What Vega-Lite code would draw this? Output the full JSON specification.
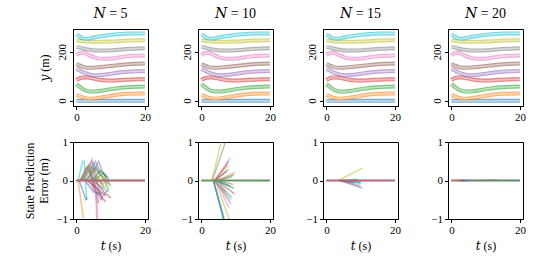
{
  "$schema": "https://vega.github.io/schema/vega-lite/v6.json",
  "autosize": "none",
  "padding": {"left": 73, "top": 29, "right": 467, "bottom": 237},
  "background": "white",
  "config": {
    "font": "Liberation Serif",
    "view": {"stroke": "black", "strokeWidth": 1},
    "axis": {"domainColor": "black", "tickColor": "black", "labelColor": "black", "titleColor": "black", "labelFont": "Liberation Serif, DejaVu Serif", "titleFont": "Liberation Serif, DejaVu Serif", "labelFontSize": 11, "titleFontSize": 12, "titleFontWeight": "normal", "tickSize": 3.5, "grid": false, "labelPadding": 2, "labelOverlap": false},
    "axisX": {"titlePadding": 5},
    "title": {"font": "Liberation Serif, DejaVu Serif", "fontSize": 14, "fontWeight": "normal", "offset": 4, "color": "black"}
  },
  "datasets": {
    "traj": [
      {"lane":0,"t":0,"y":-1},{"lane":0,"t":5,"y":-1},{"lane":0,"t":10,"y":-1},{"lane":0,"t":15,"y":-1},{"lane":0,"t":20,"y":-1},
      {"lane":1,"t":0,"y":24},{"lane":1,"t":1,"y":18},{"lane":1,"t":2,"y":12},{"lane":1,"t":3,"y":9},{"lane":1,"t":4,"y":8},{"lane":1,"t":5,"y":9},{"lane":1,"t":6,"y":11},{"lane":1,"t":8,"y":15},{"lane":1,"t":10,"y":20},{"lane":1,"t":12,"y":24},{"lane":1,"t":14,"y":27},{"lane":1,"t":16,"y":28},{"lane":1,"t":18,"y":29},{"lane":1,"t":20,"y":29},
      {"lane":2,"t":0,"y":68},{"lane":2,"t":1,"y":56},{"lane":2,"t":2,"y":46},{"lane":2,"t":3,"y":40},{"lane":2,"t":4,"y":37},{"lane":2,"t":5,"y":37},{"lane":2,"t":6,"y":38},{"lane":2,"t":8,"y":42},{"lane":2,"t":10,"y":47},{"lane":2,"t":12,"y":51},{"lane":2,"t":14,"y":54},{"lane":2,"t":16,"y":56},{"lane":2,"t":18,"y":57},{"lane":2,"t":20,"y":58},
      {"lane":3,"t":0,"y":84},{"lane":3,"t":1,"y":92},{"lane":3,"t":2,"y":95},{"lane":3,"t":3,"y":95},{"lane":3,"t":4,"y":93},{"lane":3,"t":5,"y":90},{"lane":3,"t":6,"y":87},{"lane":3,"t":8,"y":83},{"lane":3,"t":10,"y":82},{"lane":3,"t":12,"y":83},{"lane":3,"t":14,"y":85},{"lane":3,"t":16,"y":86},{"lane":3,"t":18,"y":87},{"lane":3,"t":20,"y":87},
      {"lane":4,"t":0,"y":130},{"lane":4,"t":1,"y":123},{"lane":4,"t":2,"y":116},{"lane":4,"t":3,"y":110},{"lane":4,"t":4,"y":106},{"lane":4,"t":5,"y":104},{"lane":4,"t":6,"y":104},{"lane":4,"t":8,"y":106},{"lane":4,"t":10,"y":110},{"lane":4,"t":12,"y":114},{"lane":4,"t":14,"y":117},{"lane":4,"t":16,"y":119},{"lane":4,"t":18,"y":120},{"lane":4,"t":20,"y":121},
      {"lane":5,"t":0,"y":150},{"lane":5,"t":1,"y":143},{"lane":5,"t":2,"y":138},{"lane":5,"t":3,"y":135},{"lane":5,"t":4,"y":134},{"lane":5,"t":5,"y":135},{"lane":5,"t":6,"y":136},{"lane":5,"t":8,"y":139},{"lane":5,"t":10,"y":142},{"lane":5,"t":12,"y":145},{"lane":5,"t":14,"y":148},{"lane":5,"t":16,"y":150},{"lane":5,"t":18,"y":151},{"lane":5,"t":20,"y":152},
      {"lane":6,"t":0,"y":186},{"lane":6,"t":1,"y":195},{"lane":6,"t":2,"y":196},{"lane":6,"t":3,"y":191},{"lane":6,"t":4,"y":184},{"lane":6,"t":5,"y":178},{"lane":6,"t":6,"y":174},{"lane":6,"t":8,"y":171},{"lane":6,"t":10,"y":172},{"lane":6,"t":12,"y":176},{"lane":6,"t":14,"y":180},{"lane":6,"t":16,"y":183},{"lane":6,"t":18,"y":184},{"lane":6,"t":20,"y":185},
      {"lane":7,"t":0,"y":220},{"lane":7,"t":1,"y":217},{"lane":7,"t":2,"y":213},{"lane":7,"t":3,"y":210},{"lane":7,"t":4,"y":208},{"lane":7,"t":5,"y":206},{"lane":7,"t":6,"y":205},{"lane":7,"t":8,"y":205},{"lane":7,"t":10,"y":206},{"lane":7,"t":12,"y":208},{"lane":7,"t":14,"y":210},{"lane":7,"t":16,"y":212},{"lane":7,"t":18,"y":213},{"lane":7,"t":20,"y":214},
      {"lane":8,"t":0,"y":248},{"lane":8,"t":1,"y":245},{"lane":8,"t":2,"y":243},{"lane":8,"t":3,"y":242},{"lane":8,"t":4,"y":241},{"lane":8,"t":5,"y":241},{"lane":8,"t":6,"y":241},{"lane":8,"t":8,"y":241},{"lane":8,"t":10,"y":242},{"lane":8,"t":12,"y":243},{"lane":8,"t":14,"y":245},{"lane":8,"t":16,"y":246},{"lane":8,"t":18,"y":247},{"lane":8,"t":20,"y":247},
      {"lane":9,"t":0,"y":271},{"lane":9,"t":1,"y":262},{"lane":9,"t":2,"y":254},{"lane":9,"t":3,"y":253},{"lane":9,"t":4,"y":255},{"lane":9,"t":5,"y":258},{"lane":9,"t":6,"y":261},{"lane":9,"t":8,"y":265},{"lane":9,"t":10,"y":269},{"lane":9,"t":12,"y":272},{"lane":9,"t":14,"y":274},{"lane":9,"t":16,"y":275},{"lane":9,"t":18,"y":275},{"lane":9,"t":20,"y":275}
    ],
    "err": [
      {"p":5,"id":1,"c":9,"t":0.5,"e":0},{"p":5,"id":1,"c":9,"t":1.8,"e":0.5},{"p":5,"id":1,"c":9,"t":2.3,"e":0.5},{"p":5,"id":1,"c":9,"t":3,"e":-0.5},
      {"p":5,"id":2,"c":1,"t":0.5,"e":0},{"p":5,"id":2,"c":1,"t":2.2,"e":-1.1},
      {"p":5,"id":3,"c":0,"t":0.8,"e":0},{"p":5,"id":3,"c":0,"t":2.8,"e":-0.5},{"p":5,"id":3,"c":0,"t":3.2,"e":-0.45},
      {"p":5,"id":4,"c":2,"t":1,"e":0},{"p":5,"id":4,"c":2,"t":3,"e":0.35},{"p":5,"id":4,"c":2,"t":4.5,"e":0.1},{"p":5,"id":4,"c":2,"t":8,"e":-0.1},
      {"p":5,"id":5,"c":3,"t":1.2,"e":0},{"p":5,"id":5,"c":3,"t":3.5,"e":0.4},{"p":5,"id":5,"c":3,"t":5,"e":-0.2},{"p":5,"id":5,"c":3,"t":6.5,"e":-0.4},
      {"p":5,"id":6,"c":4,"t":1.5,"e":0},{"p":5,"id":6,"c":4,"t":4,"e":0.4},{"p":5,"id":6,"c":4,"t":5.5,"e":0.1},{"p":5,"id":6,"c":4,"t":7.5,"e":-0.5},
      {"p":5,"id":7,"c":5,"t":1.5,"e":0},{"p":5,"id":7,"c":5,"t":4,"e":0.3},{"p":5,"id":7,"c":5,"t":6.5,"e":-0.6},
      {"p":5,"id":8,"c":6,"t":2,"e":0},{"p":5,"id":8,"c":6,"t":4.5,"e":0.55},{"p":5,"id":8,"c":6,"t":5.5,"e":0},{"p":5,"id":8,"c":6,"t":6,"e":-1.1},
      {"p":5,"id":9,"c":7,"t":2,"e":0},{"p":5,"id":9,"c":7,"t":4.5,"e":0.5},{"p":5,"id":9,"c":7,"t":6,"e":0.1},{"p":5,"id":9,"c":7,"t":8,"e":-0.2},
      {"p":5,"id":10,"c":8,"t":2.2,"e":0},{"p":5,"id":10,"c":8,"t":4,"e":0.4},{"p":5,"id":10,"c":8,"t":6,"e":0.2},{"p":5,"id":10,"c":8,"t":8.5,"e":0.05},
      {"p":5,"id":11,"c":9,"t":2.5,"e":0},{"p":5,"id":11,"c":9,"t":5,"e":0.45},{"p":5,"id":11,"c":9,"t":7,"e":0.2},
      {"p":5,"id":12,"c":0,"t":2.5,"e":0},{"p":5,"id":12,"c":0,"t":5,"e":-0.3},{"p":5,"id":12,"c":0,"t":7.5,"e":-0.35},
      {"p":5,"id":13,"c":1,"t":2.8,"e":0},{"p":5,"id":13,"c":1,"t":5.5,"e":0.3},{"p":5,"id":13,"c":1,"t":8,"e":0.05},{"p":5,"id":13,"c":1,"t":9,"e":-0.1},
      {"p":5,"id":14,"c":2,"t":3,"e":0},{"p":5,"id":14,"c":2,"t":5.5,"e":0.35},{"p":5,"id":14,"c":2,"t":7.5,"e":0.1},{"p":5,"id":14,"c":2,"t":9.5,"e":-0.25},
      {"p":5,"id":15,"c":3,"t":3,"e":0},{"p":5,"id":15,"c":3,"t":6,"e":-0.2},{"p":5,"id":15,"c":3,"t":7.5,"e":-0.45},{"p":5,"id":15,"c":3,"t":8.5,"e":-0.55},
      {"p":5,"id":16,"c":4,"t":3.3,"e":0},{"p":5,"id":16,"c":4,"t":5.5,"e":0.5},{"p":5,"id":16,"c":4,"t":7,"e":0.25},{"p":5,"id":16,"c":4,"t":9,"e":0.1},
      {"p":5,"id":17,"c":5,"t":3.5,"e":0},{"p":5,"id":17,"c":5,"t":6,"e":-0.2},{"p":5,"id":17,"c":5,"t":8.5,"e":-0.4},
      {"p":5,"id":18,"c":6,"t":3.5,"e":0},{"p":5,"id":18,"c":6,"t":5.5,"e":-0.3},{"p":5,"id":18,"c":6,"t":6,"e":-0.6},{"p":5,"id":18,"c":6,"t":6.2,"e":-1.1},
      {"p":5,"id":19,"c":7,"t":4,"e":0},{"p":5,"id":19,"c":7,"t":6.5,"e":0.5},{"p":5,"id":19,"c":7,"t":8,"e":0.15},{"p":5,"id":19,"c":7,"t":9.5,"e":-0.1},
      {"p":5,"id":20,"c":8,"t":4,"e":0},{"p":5,"id":20,"c":8,"t":6.5,"e":0.1},{"p":5,"id":20,"c":8,"t":8.5,"e":-0.2},
      {"p":5,"id":21,"c":9,"t":4.5,"e":0},{"p":5,"id":21,"c":9,"t":7,"e":-0.15},{"p":5,"id":21,"c":9,"t":9.5,"e":-0.3},
      {"p":5,"id":22,"c":0,"t":4.5,"e":0},{"p":5,"id":22,"c":0,"t":7,"e":0.25},{"p":5,"id":22,"c":0,"t":9.5,"e":0.05},
      {"p":5,"id":23,"c":2,"t":5,"e":0},{"p":5,"id":23,"c":2,"t":8,"e":0.2},{"p":5,"id":23,"c":2,"t":10,"e":-0.15},
      {"p":5,"id":24,"c":3,"t":5.5,"e":0},{"p":5,"id":24,"c":3,"t":8,"e":-0.3},{"p":5,"id":24,"c":3,"t":10,"e":-0.45},
      {"p":5,"id":25,"c":4,"t":5,"e":0},{"p":5,"id":25,"c":4,"t":7,"e":-0.5},{"p":5,"id":25,"c":4,"t":9,"e":-0.25},
      {"p":5,"id":91,"c":1,"t":0,"e":0},{"p":5,"id":91,"c":1,"t":20,"e":0},
      {"p":5,"id":92,"c":0,"t":0,"e":0},{"p":5,"id":92,"c":0,"t":20,"e":0},
      {"p":5,"id":93,"c":2,"t":0,"e":0},{"p":5,"id":93,"c":2,"t":20,"e":0},
      {"p":5,"id":94,"c":3,"t":0,"e":0},{"p":5,"id":94,"c":3,"t":20,"e":0},
      {"p":5,"id":95,"c":5,"t":0,"e":0},{"p":5,"id":95,"c":5,"t":20,"e":0},
      {"p":5,"id":96,"c":6,"t":0,"e":0},{"p":5,"id":96,"c":6,"t":20,"e":0},

      {"p":10,"id":1,"c":8,"t":3,"e":0},{"p":10,"id":1,"c":8,"t":6.2,"e":1.15},
      {"p":10,"id":2,"c":7,"t":3.2,"e":0},{"p":10,"id":2,"c":7,"t":7.4,"e":1.1},
      {"p":10,"id":3,"c":9,"t":3.5,"e":0},{"p":10,"id":3,"c":9,"t":6.7,"e":-1.1},
      {"p":10,"id":4,"c":7,"t":3.5,"e":0},{"p":10,"id":4,"c":7,"t":7,"e":-1.1},
      {"p":10,"id":5,"c":8,"t":4,"e":0},{"p":10,"id":5,"c":8,"t":8.5,"e":-1.1},
      {"p":10,"id":6,"c":0,"t":3.5,"e":0},{"p":10,"id":6,"c":0,"t":6.2,"e":-0.9},{"p":10,"id":6,"c":0,"t":6.5,"e":-1.1},
      {"p":10,"id":7,"c":4,"t":4,"e":0},{"p":10,"id":7,"c":4,"t":8.6,"e":-0.6},
      {"p":10,"id":8,"c":6,"t":4,"e":0},{"p":10,"id":8,"c":6,"t":8.5,"e":0.6},
      {"p":10,"id":9,"c":3,"t":4.5,"e":0},{"p":10,"id":9,"c":3,"t":9.7,"e":-0.35},
      {"p":10,"id":10,"c":1,"t":4.5,"e":0},{"p":10,"id":10,"c":1,"t":9.7,"e":0.2},
      {"p":10,"id":11,"c":2,"t":4.5,"e":0},{"p":10,"id":11,"c":2,"t":9.5,"e":-0.2},
      {"p":10,"id":12,"c":4,"t":4,"e":0},{"p":10,"id":12,"c":4,"t":8,"e":0.5},
      {"p":10,"id":13,"c":5,"t":3.5,"e":0},{"p":10,"id":13,"c":5,"t":7,"e":-0.3},
      {"p":10,"id":14,"c":6,"t":3.8,"e":0},{"p":10,"id":14,"c":6,"t":7.5,"e":-0.4},
      {"p":10,"id":15,"c":9,"t":4.2,"e":0},{"p":10,"id":15,"c":9,"t":8,"e":0.3},
      {"p":10,"id":16,"c":0,"t":4.2,"e":0},{"p":10,"id":16,"c":0,"t":8.5,"e":-0.15},
      {"p":10,"id":17,"c":1,"t":3.6,"e":0},{"p":10,"id":17,"c":1,"t":7.8,"e":0.4},
      {"p":10,"id":18,"c":2,"t":4.8,"e":0},{"p":10,"id":18,"c":2,"t":9,"e":0.1},
      {"p":10,"id":19,"c":3,"t":3.8,"e":0},{"p":10,"id":19,"c":3,"t":7.5,"e":0.25},
      {"p":10,"id":20,"c":5,"t":5,"e":0},{"p":10,"id":20,"c":5,"t":9.2,"e":-0.1},
      {"p":10,"id":21,"c":7,"t":5,"e":0},{"p":10,"id":21,"c":7,"t":9.5,"e":0.15},
      {"p":10,"id":22,"c":8,"t":4.5,"e":0},{"p":10,"id":22,"c":8,"t":8.5,"e":-0.5},
      {"p":10,"id":23,"c":6,"t":4.2,"e":0},{"p":10,"id":23,"c":6,"t":8,"e":-0.7},
      {"p":10,"id":24,"c":9,"t":4.6,"e":0},{"p":10,"id":24,"c":9,"t":8.8,"e":-0.45},
      {"p":10,"id":91,"c":6,"t":0,"e":0},{"p":10,"id":91,"c":6,"t":20,"e":0},
      {"p":10,"id":92,"c":5,"t":0,"e":0},{"p":10,"id":92,"c":5,"t":20,"e":0},
      {"p":10,"id":93,"c":1,"t":0,"e":0},{"p":10,"id":93,"c":1,"t":20,"e":0},
      {"p":10,"id":94,"c":9,"t":0,"e":0},{"p":10,"id":94,"c":9,"t":20,"e":0},
      {"p":10,"id":95,"c":2,"t":0,"e":0},{"p":10,"id":95,"c":2,"t":20,"e":0},

      {"p":15,"id":1,"c":8,"t":3.5,"e":0},{"p":15,"id":1,"c":8,"t":10.5,"e":0.32},
      {"p":15,"id":2,"c":7,"t":4,"e":0},{"p":15,"id":2,"c":7,"t":10.5,"e":-0.2},
      {"p":15,"id":3,"c":4,"t":4,"e":0},{"p":15,"id":3,"c":4,"t":10,"e":-0.15},
      {"p":15,"id":4,"c":6,"t":4.5,"e":0},{"p":15,"id":4,"c":6,"t":10,"e":-0.1},
      {"p":15,"id":5,"c":0,"t":4.5,"e":0},{"p":15,"id":5,"c":0,"t":10,"e":-0.06},
      {"p":15,"id":6,"c":9,"t":5,"e":0},{"p":15,"id":6,"c":9,"t":10,"e":-0.04},
      {"p":15,"id":7,"c":5,"t":3.5,"e":0},{"p":15,"id":7,"c":5,"t":8,"e":-0.05},
      {"p":15,"id":8,"c":2,"t":4.2,"e":0},{"p":15,"id":8,"c":2,"t":9,"e":0.03},
      {"p":15,"id":91,"c":0,"t":0,"e":0},{"p":15,"id":91,"c":0,"t":20,"e":0},
      {"p":15,"id":92,"c":2,"t":0,"e":0},{"p":15,"id":92,"c":2,"t":20,"e":0},
      {"p":15,"id":93,"c":5,"t":0,"e":0},{"p":15,"id":93,"c":5,"t":20,"e":0},
      {"p":15,"id":94,"c":3,"t":0,"e":0},{"p":15,"id":94,"c":3,"t":20,"e":0},
      {"p":15,"id":95,"c":6,"t":0,"e":0},{"p":15,"id":95,"c":6,"t":20,"e":0},

      {"p":20,"id":91,"c":6,"t":0,"e":0},{"p":20,"id":91,"c":6,"t":20,"e":0},
      {"p":20,"id":92,"c":5,"t":0,"e":0},{"p":20,"id":92,"c":5,"t":20,"e":0},
      {"p":20,"id":93,"c":3,"t":0,"e":0},{"p":20,"id":93,"c":3,"t":20,"e":0},
      {"p":20,"id":94,"c":9,"t":0,"e":0},{"p":20,"id":94,"c":9,"t":20,"e":0},
      {"p":20,"id":95,"c":2,"t":0,"e":0},{"p":20,"id":95,"c":2,"t":20,"e":0},
      {"p":20,"id":1,"c":1,"t":0,"e":0},{"p":20,"id":1,"c":1,"t":2,"e":0},
      {"p":20,"id":2,"c":6,"t":1,"e":0},{"p":20,"id":2,"c":6,"t":3.5,"e":0},
      {"p":20,"id":3,"c":3,"t":2,"e":0},{"p":20,"id":3,"c":3,"t":4,"e":0},
      {"p":20,"id":4,"c":0,"t":3,"e":0},{"p":20,"id":4,"c":0,"t":5,"e":0},
      {"p":20,"id":5,"c":4,"t":4,"e":0},{"p":20,"id":5,"c":4,"t":6,"e":0},
      {"p":20,"id":6,"c":7,"t":9,"e":0},{"p":20,"id":6,"c":7,"t":12,"e":0.02},{"p":20,"id":6,"c":7,"t":15,"e":0}
    ]
  },
  "columns": 4,
  "spacing": {"row": 36, "column": 50},
  "bounds": "flush",
  "concat": [
    {
      "width": 75, "height": 77, "title": "𝑁 = 5",
      "data": {"name": "traj"},
      "encoding": {
        "x": {"field": "t", "type": "quantitative", "scale": {"domain": [-1, 20.9], "nice": false, "zero": false}, "axis": {"values": [0, 20], "title": null}},
        "y": {"field": "y", "type": "quantitative", "scale": {"domain": [-22, 293], "nice": false, "zero": false}, "axis": {"values": [0, 200], "labelAngle": -90, "labelAlign": "center", "labelBaseline": "bottom", "title": "𝑦 (m)", "titlePadding": 5}}
      },
      "layer": [
        {"mark": {"type": "line", "strokeWidth": 4, "opacity": 0.6, "interpolate": "monotone"}, "encoding": {"color": {"field": "lane", "type": "nominal", "scale": {"domain": [0,1,2,3,4,5,6,7,8,9], "range": ["#1f77b4","#ff7f0e","#2ca02c","#d62728","#9467bd","#8c564b","#e377c2","#7f7f7f","#bcbd22","#17becf"]}, "legend": null}}},
        {"mark": {"type": "line", "strokeWidth": 1.6, "color": "white", "opacity": 0.5, "interpolate": "monotone"}, "encoding": {"detail": {"field": "lane", "type": "nominal"}}}
      ]
    },
    {
      "width": 75, "height": 77, "title": "𝑁 = 10",
      "data": {"name": "traj"},
      "encoding": {
        "x": {"field": "t", "type": "quantitative", "scale": {"domain": [-1, 20.9], "nice": false, "zero": false}, "axis": {"values": [0, 20], "title": null}},
        "y": {"field": "y", "type": "quantitative", "scale": {"domain": [-22, 293], "nice": false, "zero": false}, "axis": {"values": [0, 200], "labelAngle": -90, "labelAlign": "center", "labelBaseline": "bottom", "title": null}}
      },
      "layer": [
        {"mark": {"type": "line", "strokeWidth": 4, "opacity": 0.6, "interpolate": "monotone"}, "encoding": {"color": {"field": "lane", "type": "nominal", "scale": {"domain": [0,1,2,3,4,5,6,7,8,9], "range": ["#1f77b4","#ff7f0e","#2ca02c","#d62728","#9467bd","#8c564b","#e377c2","#7f7f7f","#bcbd22","#17becf"]}, "legend": null}}},
        {"mark": {"type": "line", "strokeWidth": 1.6, "color": "white", "opacity": 0.5, "interpolate": "monotone"}, "encoding": {"detail": {"field": "lane", "type": "nominal"}}}
      ]
    },
    {
      "width": 75, "height": 77, "title": "𝑁 = 15",
      "data": {"name": "traj"},
      "encoding": {
        "x": {"field": "t", "type": "quantitative", "scale": {"domain": [-1, 20.9], "nice": false, "zero": false}, "axis": {"values": [0, 20], "title": null}},
        "y": {"field": "y", "type": "quantitative", "scale": {"domain": [-22, 293], "nice": false, "zero": false}, "axis": {"values": [0, 200], "labelAngle": -90, "labelAlign": "center", "labelBaseline": "bottom", "title": null}}
      },
      "layer": [
        {"mark": {"type": "line", "strokeWidth": 4, "opacity": 0.6, "interpolate": "monotone"}, "encoding": {"color": {"field": "lane", "type": "nominal", "scale": {"domain": [0,1,2,3,4,5,6,7,8,9], "range": ["#1f77b4","#ff7f0e","#2ca02c","#d62728","#9467bd","#8c564b","#e377c2","#7f7f7f","#bcbd22","#17becf"]}, "legend": null}}},
        {"mark": {"type": "line", "strokeWidth": 1.6, "color": "white", "opacity": 0.5, "interpolate": "monotone"}, "encoding": {"detail": {"field": "lane", "type": "nominal"}}}
      ]
    },
    {
      "width": 75, "height": 77, "title": "𝑁 = 20",
      "data": {"name": "traj"},
      "encoding": {
        "x": {"field": "t", "type": "quantitative", "scale": {"domain": [-1, 20.9], "nice": false, "zero": false}, "axis": {"values": [0, 20], "title": null}},
        "y": {"field": "y", "type": "quantitative", "scale": {"domain": [-22, 293], "nice": false, "zero": false}, "axis": {"values": [0, 200], "labelAngle": -90, "labelAlign": "center", "labelBaseline": "bottom", "title": null}}
      },
      "layer": [
        {"mark": {"type": "line", "strokeWidth": 4, "opacity": 0.6, "interpolate": "monotone"}, "encoding": {"color": {"field": "lane", "type": "nominal", "scale": {"domain": [0,1,2,3,4,5,6,7,8,9], "range": ["#1f77b4","#ff7f0e","#2ca02c","#d62728","#9467bd","#8c564b","#e377c2","#7f7f7f","#bcbd22","#17becf"]}, "legend": null}}},
        {"mark": {"type": "line", "strokeWidth": 1.6, "color": "white", "opacity": 0.5, "interpolate": "monotone"}, "encoding": {"detail": {"field": "lane", "type": "nominal"}}}
      ]
    },
    {
      "width": 75, "height": 77,
      "data": {"name": "err"},
      "transform": [{"filter": "datum.p == 5"}],
      "mark": {"type": "line", "strokeWidth": 1.5, "opacity": 0.5, "clip": true},
      "encoding": {
        "x": {"field": "t", "type": "quantitative", "scale": {"domain": [-1, 20.9], "nice": false, "zero": false}, "axis": {"values": [0, 20], "title": "𝑡 (s)"}},
        "y": {"field": "e", "type": "quantitative", "scale": {"domain": [-1, 1], "nice": false}, "axis": {"values": [-1, 0, 1], "labelExpr": "datum.value < 0 ? '−1' : (datum.value > 0 ? '1' : '0')", "labelOverlap": false, "labelBaseline": "middle", "title": ["State Prediction", "Error (m)"], "titlePadding": 5}},
        "color": {"field": "c", "type": "nominal", "scale": {"domain": [0,1,2,3,4,5,6,7,8,9], "range": ["#1f77b4","#ff7f0e","#2ca02c","#d62728","#9467bd","#8c564b","#e377c2","#7f7f7f","#bcbd22","#17becf"]}, "legend": null},
        "detail": {"field": "id", "type": "nominal"}
      }
    },
    {
      "width": 75, "height": 77,
      "data": {"name": "err"},
      "transform": [{"filter": "datum.p == 10"}],
      "mark": {"type": "line", "strokeWidth": 1.5, "opacity": 0.5, "clip": true},
      "encoding": {
        "x": {"field": "t", "type": "quantitative", "scale": {"domain": [-1, 20.9], "nice": false, "zero": false}, "axis": {"values": [0, 20], "title": "𝑡 (s)"}},
        "y": {"field": "e", "type": "quantitative", "scale": {"domain": [-1, 1], "nice": false}, "axis": {"values": [-1, 0, 1], "labelExpr": "datum.value < 0 ? '−1' : (datum.value > 0 ? '1' : '0')", "labelOverlap": false, "labelBaseline": "middle", "title": null}},
        "color": {"field": "c", "type": "nominal", "scale": {"domain": [0,1,2,3,4,5,6,7,8,9], "range": ["#1f77b4","#ff7f0e","#2ca02c","#d62728","#9467bd","#8c564b","#e377c2","#7f7f7f","#bcbd22","#17becf"]}, "legend": null},
        "detail": {"field": "id", "type": "nominal"}
      }
    },
    {
      "width": 75, "height": 77,
      "data": {"name": "err"},
      "transform": [{"filter": "datum.p == 15"}],
      "mark": {"type": "line", "strokeWidth": 1.5, "opacity": 0.5, "clip": true},
      "encoding": {
        "x": {"field": "t", "type": "quantitative", "scale": {"domain": [-1, 20.9], "nice": false, "zero": false}, "axis": {"values": [0, 20], "title": "𝑡 (s)"}},
        "y": {"field": "e", "type": "quantitative", "scale": {"domain": [-1, 1], "nice": false}, "axis": {"values": [-1, 0, 1], "labelExpr": "datum.value < 0 ? '−1' : (datum.value > 0 ? '1' : '0')", "labelOverlap": false, "labelBaseline": "middle", "title": null}},
        "color": {"field": "c", "type": "nominal", "scale": {"domain": [0,1,2,3,4,5,6,7,8,9], "range": ["#1f77b4","#ff7f0e","#2ca02c","#d62728","#9467bd","#8c564b","#e377c2","#7f7f7f","#bcbd22","#17becf"]}, "legend": null},
        "detail": {"field": "id", "type": "nominal"}
      }
    },
    {
      "width": 75, "height": 77,
      "data": {"name": "err"},
      "transform": [{"filter": "datum.p == 20"}],
      "mark": {"type": "line", "strokeWidth": 1.5, "opacity": 0.5, "clip": true},
      "encoding": {
        "x": {"field": "t", "type": "quantitative", "scale": {"domain": [-1, 20.9], "nice": false, "zero": false}, "axis": {"values": [0, 20], "title": "𝑡 (s)"}},
        "y": {"field": "e", "type": "quantitative", "scale": {"domain": [-1, 1], "nice": false}, "axis": {"values": [-1, 0, 1], "labelExpr": "datum.value < 0 ? '−1' : (datum.value > 0 ? '1' : '0')", "labelOverlap": false, "labelBaseline": "middle", "title": null}},
        "color": {"field": "c", "type": "nominal", "scale": {"domain": [0,1,2,3,4,5,6,7,8,9], "range": ["#1f77b4","#ff7f0e","#2ca02c","#d62728","#9467bd","#8c564b","#e377c2","#7f7f7f","#bcbd22","#17becf"]}, "legend": null},
        "detail": {"field": "id", "type": "nominal"}
      }
    }
  ]
}
